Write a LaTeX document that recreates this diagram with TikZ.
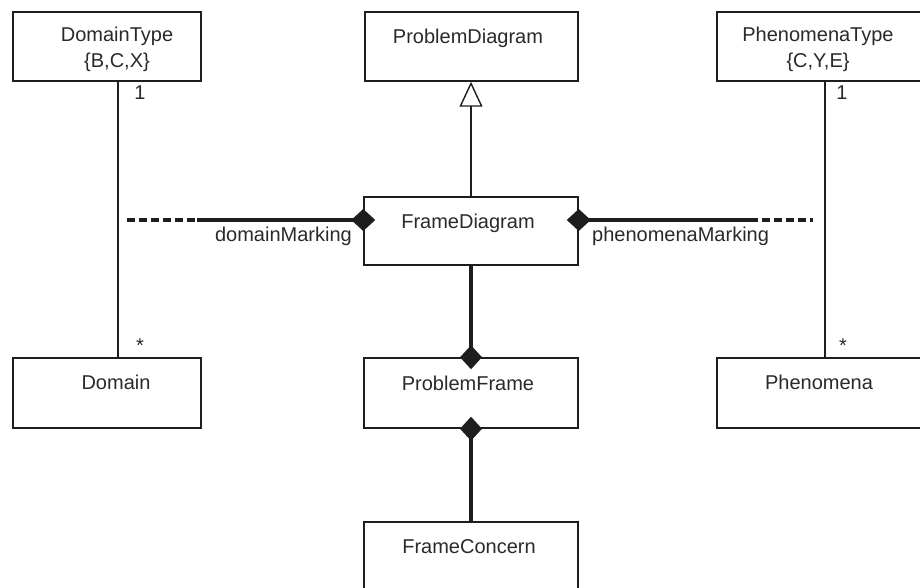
\documentclass[tikz,border=0pt]{standalone}
\usepackage{fontspec}
\setmainfont{Liberation Sans}
\usetikzlibrary{arrows.meta}
\definecolor{ink}{HTML}{1E1E1E}
\definecolor{txtc}{HTML}{2A2A2A}
\begin{document}
\begin{tikzpicture}[x=1pt,y=-1pt,
  classbox/.style={draw=ink, line width=1.5pt, rectangle, inner sep=0pt,
    minimum width=#1, minimum height=69pt},
  lbl/.style={text=txtc, inner sep=0pt, anchor=base,
    font=\fontsize{20}{22}\selectfont},
  typeline/.style={draw=ink, line width=1.4pt},
  gen/.style={draw=ink, line width=1.4pt,
    -{Triangle[open, length=25pt, width=23pt, fill=white, line width=1.4pt]}},
  comp/.style={draw=ink, line width=3.2pt, shorten >=-12pt,
    -{Diamond[length=24pt, width=22pt]}},
  markdash/.style={draw=ink, line width=3.2pt, dash pattern=on 8pt off 4pt}
]
\useasboundingbox (0,0) rectangle (920,588);
\fill[white] (0,0) rectangle (920,588);

% class boxes
\node[classbox=188pt] (dt) at (107,46.5) {};
\node[classbox=213pt] (pd) at (471.5,46.5) {};
\node[classbox=208pt] (pt) at (821,46.5) {};
\node[classbox=214pt, minimum height=68pt] (fd) at (471,231) {};
\node[classbox=188pt, minimum height=70pt] (dm) at (107,393) {};
\node[classbox=214pt, minimum height=70pt] (pf) at (471,393) {};
\node[classbox=208pt, minimum height=70pt] (ph) at (821,393) {};
\node[classbox=214pt, minimum height=70pt] (fc) at (471,557) {};

% class names
\node[lbl] (dtA) at (117,41.5) {DomainType};
\node[lbl] (dtB) at (117,68) {\{B,C,X\}};
\node[lbl] (pdA) at (468,44) {ProblemDiagram};
\node[lbl] (ptA) at (818,42) {PhenomenaType};
\node[lbl] (ptB) at (818,68) {\{C,Y,E\}};
\node[lbl] (fdA) at (468,228) {FrameDiagram};
\node[lbl] (dmA) at (116,389) {Domain};
\node[lbl] (pfA) at (468,390) {ProblemFrame};
\node[lbl] (phA) at (819,389) {Phenomena};
\node[lbl] (fcA) at (469,553) {FrameConcern};

% type associations with multiplicities
\coordinate (dx) at (118,0);
\coordinate (px) at (825,0);
\draw[typeline] (dx |- dt.south) -- (dx |- dm.north);
\draw[typeline] (px |- pt.south) -- (px |- ph.north);
\node[lbl] (m1) at (140,100) {1};
\node[lbl] (m2) at (140,352) {*};
\node[lbl] (m3) at (842,100) {1};
\node[lbl] (m4) at (843,352) {*};

% generalisation
\draw[gen] (fd.north) -- (fd.north |- pd.south);

% compositions
\draw[comp] (fd.south) -- (fd.south |- pf.north);
\draw[comp] (fc.north) -- (fc.north |- pf.south);

% marking associations
\coordinate (dmkA) at (127,220);
\coordinate (dmkB) at (197,220);
\coordinate (pmkA) at (750,220);
\coordinate (pmkB) at (813,220);
\draw[markdash] (dmkA) -- (dmkB);
\draw[comp] (dmkB) -- (fd.west |- dmkB);
\draw[markdash] (pmkA) -- (pmkB);
\draw[comp] (pmkA) -- (fd.east |- pmkA);
\node[lbl, anchor=base east] (dmkL) at (352,241) {domainMarking};
\node[lbl, anchor=base west] (pmkL) at (592,241) {phenomenaMarking};
\end{tikzpicture}
\end{document}
